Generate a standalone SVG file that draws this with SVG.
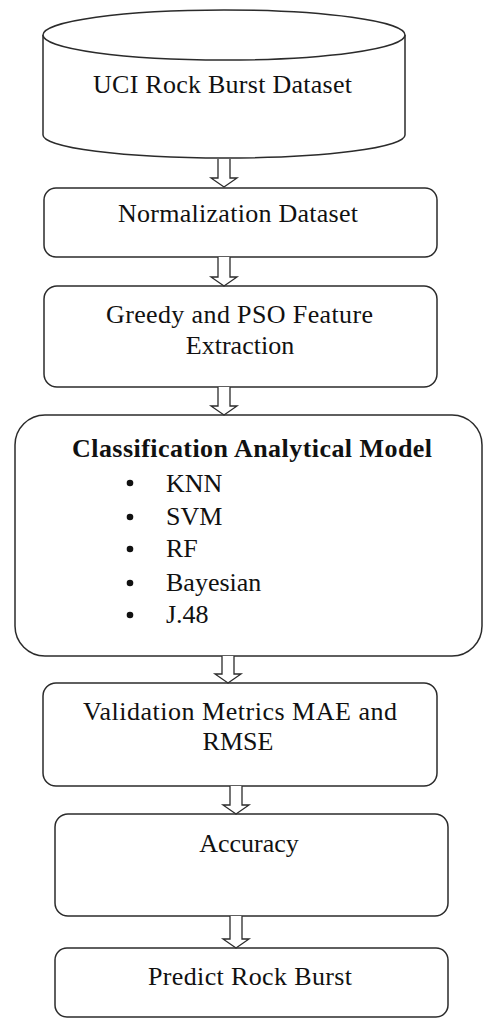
<svg xmlns="http://www.w3.org/2000/svg" width="483" height="1019" viewBox="0 0 483 1019">
<style>
.box{fill:#fff;stroke:#2b2b2b;stroke-width:1.5}
.arr{fill:#fff;stroke:#2b2b2b;stroke-width:1.3;stroke-linejoin:miter}
text{font-family:"Liberation Serif","Times New Roman",serif;font-size:26px;fill:#111}
.c{text-anchor:middle}
.b{font-weight:bold}
</style>
<rect width="483" height="1019" fill="#fff"/>
<g id="n1">
<path class="box" d="M43,35 V135 A181,23 0 0 0 405,135 V35"/>
<ellipse class="box" cx="224" cy="35" rx="181" ry="25"/>
<text x="222.5" y="93" class="c" textLength="259" lengthAdjust="spacing">UCI Rock Burst Dataset</text>
</g>
<g id="n2">
<rect class="box" x="44" y="188" width="393" height="69" rx="12"/>
<text x="238" y="222" class="c" textLength="240" lengthAdjust="spacing">Normalization Dataset</text>
</g>
<g id="n3">
<rect class="box" x="44" y="286" width="393" height="101" rx="13"/>
<text x="239.5" y="323" class="c" textLength="267" lengthAdjust="spacing">Greedy and PSO Feature</text>
<text x="240" y="354" class="c">Extraction</text>
</g>
<g id="n4">
<rect class="box" x="15" y="415" width="467" height="241" rx="30"/>
<text x="252" y="457" class="c b" textLength="360" lengthAdjust="spacing">Classification Analytical Model</text>
<g>
<circle cx="130" cy="483" r="3.3" fill="#111"/>
<circle cx="130" cy="517" r="3.3" fill="#111"/>
<circle cx="130" cy="549" r="3.3" fill="#111"/>
<circle cx="130" cy="583" r="3.3" fill="#111"/>
<circle cx="130" cy="615" r="3.3" fill="#111"/>
</g>
<text x="166" y="492">KNN</text>
<text x="166" y="525">SVM</text>
<text x="166" y="557">RF</text>
<text x="166" y="591">Bayesian</text>
<text x="166" y="623">J.48</text>
</g>
<g id="n5">
<rect class="box" x="43" y="683" width="394" height="103" rx="13"/>
<text x="240" y="720" class="c" textLength="314" lengthAdjust="spacing">Validation Metrics MAE and</text>
<text x="238" y="750" class="c">RMSE</text>
</g>
<g id="n6">
<rect class="box" x="55" y="814" width="393" height="102" rx="13"/>
<text x="249" y="852" class="c">Accuracy</text>
</g>
<g id="n7">
<rect class="box" x="55" y="948" width="393" height="69" rx="12"/>
<text x="250" y="985" class="c" textLength="204" lengthAdjust="spacing">Predict Rock Burst</text>
</g>
<g id="connectors">
<path class="arr" d="M218,159 V178 H211 L224,187 L237,178 H230 V159"/>
<path class="arr" d="M218,257 V277 H211 L224,286 L237,277 H230 V257"/>
<path class="arr" d="M218,387 V406 H211 L224,415 L237,406 H230 V387"/>
<path class="arr" d="M222,656 V674 H215 L228,683 L241,674 H234 V656"/>
<path class="arr" d="M230,786 V805 H223 L236,814 L249,805 H242 V786"/>
<path class="arr" d="M230,916 V939 H223 L236,948 L249,939 H242 V916"/>
</g>
</svg>
